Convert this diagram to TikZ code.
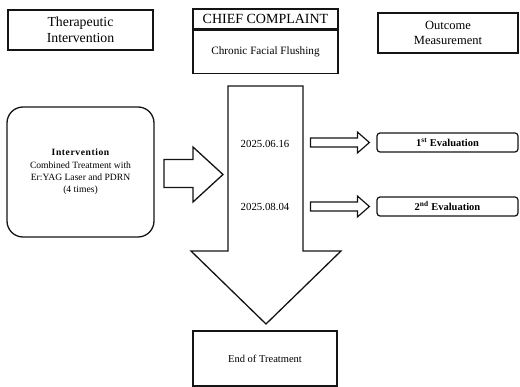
\documentclass[tikz,border=0pt]{standalone}
\usepackage{fontspec}
\setmainfont{Liberation Serif}
\usepackage{tikz}
\usetikzlibrary{calc}
\definecolor{boxink}{RGB}{20,20,20}
\colorlet{figink}{boxink}

\tikzset{
  headbox/.style={draw=figink, line width=1.3pt, font=\fontsize{13}{15}\selectfont,
    align=center, inner sep=0pt},
  textbox/.style={draw=figink, line width=1.3pt, font=\fontsize{10.5}{12}\selectfont,
    align=center, inner sep=0pt},
  evalbox/.style={draw=figink, line width=1.2pt, rounded corners=3pt,
    font=\bfseries\fontsize{10.5}{12}\selectfont, minimum width=141pt,
    minimum height=19pt, inner sep=0pt},
  blockarrow/.style={draw=figink, line width=1.3pt, fill=white, line join=miter},
  datelabel/.style={font=\fontsize{10.8}{12}\selectfont},
}

\begin{document}
\begin{tikzpicture}[x=1pt, y=-1pt]
  \useasboundingbox (0,0) rectangle (520,387);

  % top row
  \node[headbox, minimum width=145pt, minimum height=40pt,
    font=\fontsize{13.8}{15.5}\selectfont] (ther) at (80.5,30)
    {Therapeutic\\Intervention};
  \node[headbox, minimum width=145pt, minimum height=20pt,
    font=\fontsize{14}{15}\selectfont] (chief) at (265.5,19) {CHIEF COMPLAINT};
  \node[textbox, minimum width=145pt, minimum height=43pt, anchor=north,
    font=\fontsize{11.2}{13}\selectfont] (flush) at (chief.south)
    {Chronic Facial Flushing};
  \node[headbox, minimum width=140pt, minimum height=40pt,
    font=\fontsize{12.5}{15.5}\selectfont] (outc) at (448,33)
    {Outcome\\Measurement};

  % timeline arrow
  \draw[blockarrow] (228,86) -- (303,86) -- (303,251) -- (341,251)
    -- (266,324) -- (191,251) -- (228,251) -- cycle;
  \node[datelabel] (d1) at (265,144) {2025.06.16};
  \node[datelabel] (d2) at (265,207) {2025.08.04};

  % intervention
  \node[textbox, rounded corners=16pt, minimum width=147pt, minimum height=130pt,
    font=\fontsize{9.6}{12.4}\selectfont] (interv) at (80.5,172)
    {{\bfseries\addfontfeatures{LetterSpace=6}Intervention}\\Combined Treatment with\\
     Er:YAG Laser and PDRN\\(4 times)};
  \draw[blockarrow] (164,159.5) -- (193,159.5) -- (193,147) -- (223,174.5)
    -- (193,202) -- (193,187.5) -- (164,187.5) -- cycle;

  % evaluations
  \node[evalbox] (eval1) at (447.5,142.5) {1\textsuperscript{st} Evaluation};
  \node[evalbox] (eval2) at (447.5,206.5) {2\textsuperscript{nd} Evaluation};
  \foreach \n in {1,2} {
    \coordinate (tip) at ($(eval\n.west)+(-7,0)$);
    \draw[blockarrow, line width=1.2pt] ($(tip)+(-59,-4.5)$) -- ($(tip)+(-12,-4.5)$)
      -- ($(tip)+(-12,-10.5)$) -- (tip) -- ($(tip)+(-12,10.5)$)
      -- ($(tip)+(-12,4.5)$) -- ($(tip)+(-59,4.5)$) -- cycle;
  }

  \node[textbox, minimum width=144pt, minimum height=55pt] (endtr) at (265,358.5)
    {End of Treatment};
\end{tikzpicture}
\end{document}
